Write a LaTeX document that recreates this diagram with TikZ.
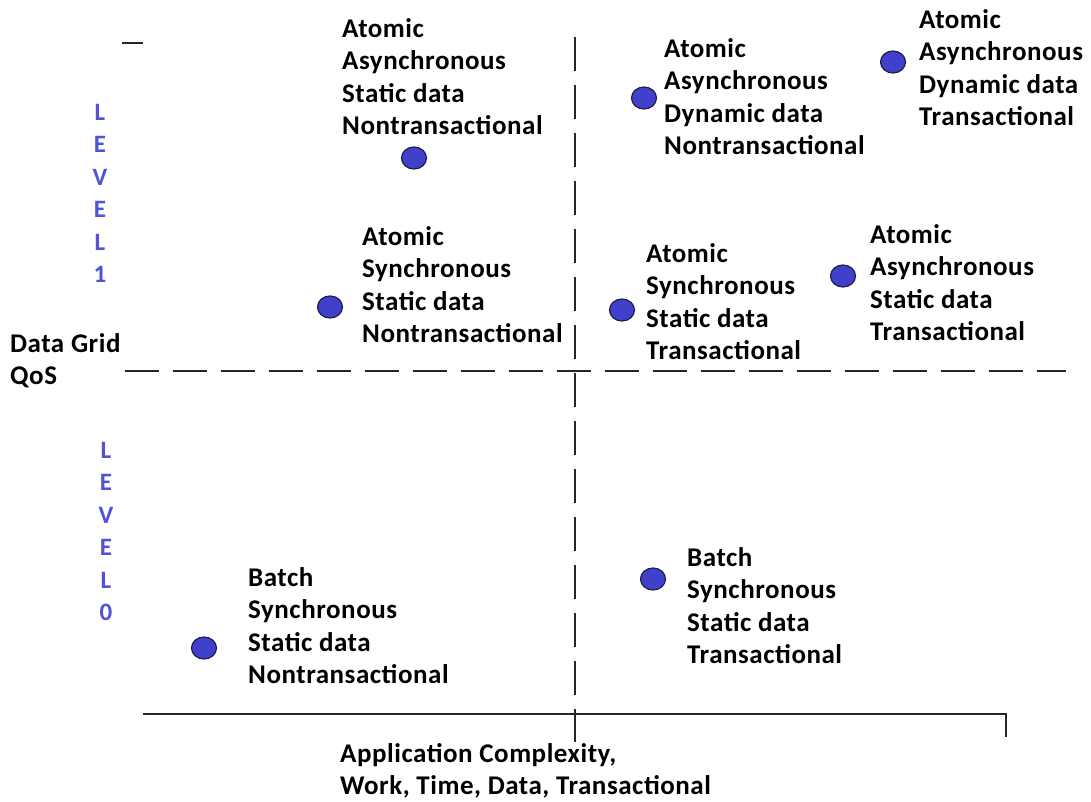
\documentclass[tikz,border=0pt]{standalone}
\usepackage{fontspec}
\setmainfont{Carlito}[LetterSpace=2]
\usetikzlibrary{shapes.geometric}
\definecolor{dotblue}{RGB}{64,64,204}
\definecolor{dotedge}{RGB}{30,30,70}
\definecolor{levelblue}{RGB}{82,82,214}
\begin{document}
\begin{tikzpicture}[x=1pt,y=-1pt,
  lbl/.style={anchor=north west,inner sep=0pt,align=left,
    font=\fontsize{27}{32.5}\selectfont\bfseries,execute at begin node=\strut},
  lvl/.style={anchor=north,inner sep=0pt,align=center,text=levelblue,
    font=\fontsize{25}{32.4}\selectfont\bfseries,execute at begin node=\strut},
  dot/.style={ellipse,draw=dotedge,fill=dotblue,line width=1.2pt,
    minimum width=25pt,minimum height=22pt,inner sep=0pt},
  axis/.style={line width=1.5pt,draw=black!85},
  grid/.style={line width=1.5pt,draw=black!85,dash pattern=on 34pt off 14pt}]
\useasboundingbox (0,0) rectangle (1091,802);

% quadrant dividers and axis
\coordinate (hL) at (125,371);
\coordinate (hR) at (1066,371);
\coordinate (vT) at (575,37);
\coordinate (vB) at (575,742);
\coordinate (aL) at (143,714);
\coordinate (aR) at (1006,714);
\coordinate (aT) at (1006,737);
\coordinate (tL) at (122,43);
\coordinate (tR) at (143,43);
\draw[grid] (hL) -- (hR);
\draw[grid] (vT) -- (vB);
\draw[axis] (aL) -- (aR) -- (aT);
\draw[axis] (tL) -- (tR);

% level labels
\node[lvl] (lev1) at (100,104) {L\\E\\V\\E\\L\\1};
\node[lvl] (lev0) at (106,442) {L\\E\\V\\E\\L\\0};
\node[lbl] (qos) at (10,333) {Data Grid\\QoS};
\node[lbl] (xaxis) at (340,743) {Application Complexity,\\Work, Time, Data, Transactional};

% data points
\node[dot] (d1) at (414,158) {};
\node[dot] (d2) at (644,98) {};
\node[dot] (d3) at (893,62) {};
\node[dot] (d4) at (330,307) {};
\node[dot] (d5) at (622,310) {};
\node[dot] (d6) at (843,276) {};
\node[dot] (d7) at (204,648) {};
\node[dot] (d8) at (653,579) {};

% point descriptions
\node[lbl] (t1) at (342,18) {Atomic\\Asynchronous\\Static data\\Nontransactional};
\node[lbl] (t2) at (664,38) {Atomic\\Asynchronous\\Dynamic data\\Nontransactional};
\node[lbl] (t3) at (919,9) {Atomic\\Asynchronous\\Dynamic data\\Transactional};
\node[lbl] (t4) at (362,226) {Atomic\\Synchronous\\Static data\\Nontransactional};
\node[lbl] (t5) at (646,243) {Atomic\\Synchronous\\Static data\\Transactional};
\node[lbl] (t6) at (870,224) {Atomic\\Asynchronous\\Static data\\Transactional};
\node[lbl] (t7) at (248,567) {Batch\\Synchronous\\Static data\\Nontransactional};
\node[lbl] (t8) at (687,547) {Batch\\Synchronous\\Static data\\Transactional};
\end{tikzpicture}
\end{document}
